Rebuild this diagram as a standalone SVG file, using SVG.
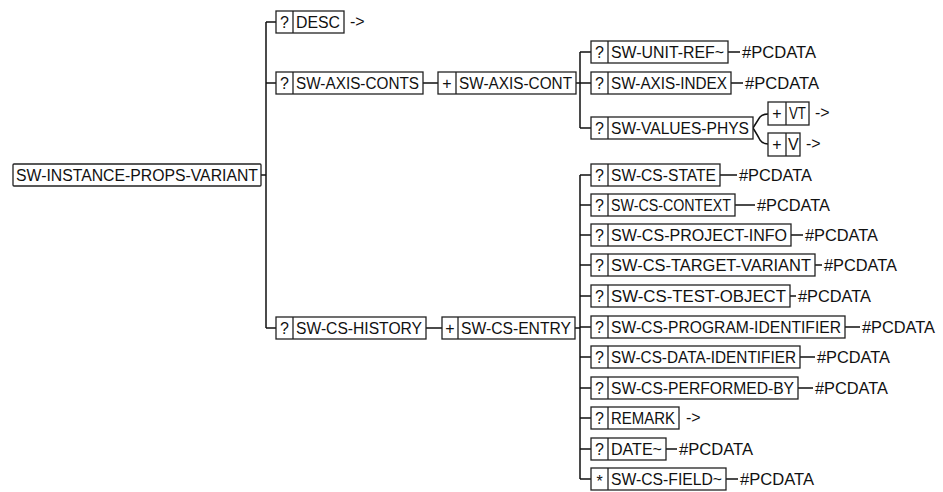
<svg xmlns="http://www.w3.org/2000/svg" width="943" height="492" viewBox="0 0 943 492">
<style>
.b{fill:#fff;stroke:#222;stroke-width:1.3}
.c{fill:none;stroke:#111;stroke-width:1.5}
text{font-family:"Liberation Sans",Arial,sans-serif;font-size:16px;fill:#111}
.q{text-anchor:middle}
</style>
<rect width="943" height="492" fill="#fff"/>
<g id="connectors" class="c">
<path d="M261,175H266M266,22V328M266,22H276M266,83H276M266,328H276"/>
<path d="M423,83H438M576,83H580M580,52V128M580,52H591M580,83H591M580,128H591"/>
<path d="M753,128Q758,120 760,117Q763,114 768,114M753,128Q758,136 760,140Q763,144 768,144"/>
<path d="M426,328H442M575,328H580M580,175V479"/>
<path d="M580,175H591M580,205H591M580,235H591M580,265H591M580,296H591M580,327H591M580,357H591M580,388H591M580,418H591M580,449H591M580,479H591"/>
<path d="M728,52H740M731,83H743"/>
<path d="M720,175H737M735,205H755M791,235H803M815,265H822M790,296H796M845,327H860M800,357H815M798,388H813M666,449H677M726,479H738"/>
</g>
<g id="root"><rect class="b" x="13" y="164" width="248" height="22" rx="1"/><text x="16" y="181" textLength="242" lengthAdjust="spacingAndGlyphs">SW-INSTANCE-PROPS-VARIANT</text></g>
<g id="desc"><rect class="b" x="276" y="11" width="68" height="22"/><path class="b" d="M293,11V33"/><text class="q" x="284.5" y="28">?</text><text x="296" y="28" textLength="44" lengthAdjust="spacingAndGlyphs">DESC</text><text x="350" y="27">-&gt;</text></g>
<g id="sw-axis-conts"><rect class="b" x="276" y="72" width="147" height="22"/><path class="b" d="M293,72V94"/><text class="q" x="284.5" y="89">?</text><text x="296" y="89" textLength="123" lengthAdjust="spacingAndGlyphs">SW-AXIS-CONTS</text></g>
<g id="sw-axis-cont"><rect class="b" x="438" y="72" width="138" height="22"/><path class="b" d="M456,72V94"/><text class="q" x="447" y="89">+</text><text x="459" y="89" textLength="113" lengthAdjust="spacingAndGlyphs">SW-AXIS-CONT</text></g>
<g id="sw-unit-ref"><rect class="b" x="591" y="41" width="137" height="22"/><path class="b" d="M608,41V63"/><text class="q" x="599.5" y="58">?</text><text x="611" y="58" textLength="113" lengthAdjust="spacingAndGlyphs">SW-UNIT-REF~</text><text x="742" y="58" textLength="74" lengthAdjust="spacingAndGlyphs">#PCDATA</text></g>
<g id="sw-axis-index"><rect class="b" x="591" y="72" width="140" height="22"/><path class="b" d="M608,72V94"/><text class="q" x="599.5" y="89">?</text><text x="611" y="89" textLength="116" lengthAdjust="spacingAndGlyphs">SW-AXIS-INDEX</text><text x="745" y="89" textLength="74" lengthAdjust="spacingAndGlyphs">#PCDATA</text></g>
<g id="sw-values-phys"><rect class="b" x="591" y="117" width="162" height="22"/><path class="b" d="M608,117V139"/><text class="q" x="599.5" y="134">?</text><text x="611" y="134" textLength="138" lengthAdjust="spacingAndGlyphs">SW-VALUES-PHYS</text></g>
<g id="vt"><rect class="b" x="768" y="102" width="41" height="23"/><path class="b" d="M786,102V125"/><text class="q" x="777" y="119">+</text><text x="789" y="119" textLength="17" lengthAdjust="spacingAndGlyphs">VT</text><text x="815" y="118">-&gt;</text></g>
<g id="v"><rect class="b" x="768" y="133" width="32" height="23"/><path class="b" d="M786,133V156"/><text class="q" x="777" y="150">+</text><text x="788" y="150">V</text><text x="806" y="149">-&gt;</text></g>
<g id="sw-cs-history"><rect class="b" x="276" y="317" width="150" height="22"/><path class="b" d="M293,317V339"/><text class="q" x="284.5" y="334">?</text><text x="296" y="334" textLength="126" lengthAdjust="spacingAndGlyphs">SW-CS-HISTORY</text></g>
<g id="sw-cs-entry"><rect class="b" x="442" y="317" width="133" height="22"/><path class="b" d="M458,317V339"/><text class="q" x="450" y="334">+</text><text x="461" y="334" textLength="110" lengthAdjust="spacingAndGlyphs">SW-CS-ENTRY</text></g>
<g id="sw-cs-state"><rect class="b" x="591" y="164" width="129" height="22"/><path class="b" d="M608,164V186"/><text class="q" x="599.5" y="181">?</text><text x="611" y="181" textLength="105" lengthAdjust="spacingAndGlyphs">SW-CS-STATE</text><text x="739" y="181" textLength="73" lengthAdjust="spacingAndGlyphs">#PCDATA</text></g>
<g id="sw-cs-context"><rect class="b" x="591" y="194" width="144" height="22"/><path class="b" d="M608,194V216"/><text class="q" x="599.5" y="211">?</text><text x="611" y="211" textLength="120" lengthAdjust="spacingAndGlyphs">SW-CS-CONTEXT</text><text x="757" y="211" textLength="73" lengthAdjust="spacingAndGlyphs">#PCDATA</text></g>
<g id="sw-cs-project-info"><rect class="b" x="591" y="224" width="200" height="22"/><path class="b" d="M608,224V246"/><text class="q" x="599.5" y="241">?</text><text x="611" y="241" textLength="176" lengthAdjust="spacingAndGlyphs">SW-CS-PROJECT-INFO</text><text x="805" y="241" textLength="73" lengthAdjust="spacingAndGlyphs">#PCDATA</text></g>
<g id="sw-cs-target-variant"><rect class="b" x="591" y="254" width="224" height="22"/><path class="b" d="M608,254V276"/><text class="q" x="599.5" y="271">?</text><text x="611" y="271" textLength="200" lengthAdjust="spacingAndGlyphs">SW-CS-TARGET-VARIANT</text><text x="824" y="271" textLength="73" lengthAdjust="spacingAndGlyphs">#PCDATA</text></g>
<g id="sw-cs-test-object"><rect class="b" x="591" y="285" width="199" height="22"/><path class="b" d="M608,285V307"/><text class="q" x="599.5" y="302">?</text><text x="611" y="302" textLength="175" lengthAdjust="spacingAndGlyphs">SW-CS-TEST-OBJECT</text><text x="798" y="302" textLength="73" lengthAdjust="spacingAndGlyphs">#PCDATA</text></g>
<g id="sw-cs-program-identifier"><rect class="b" x="591" y="316" width="254" height="22"/><path class="b" d="M608,316V338"/><text class="q" x="599.5" y="333">?</text><text x="611" y="333" textLength="230" lengthAdjust="spacingAndGlyphs">SW-CS-PROGRAM-IDENTIFIER</text><text x="862" y="333" textLength="73" lengthAdjust="spacingAndGlyphs">#PCDATA</text></g>
<g id="sw-cs-data-identifier"><rect class="b" x="591" y="346" width="209" height="22"/><path class="b" d="M608,346V368"/><text class="q" x="599.5" y="363">?</text><text x="611" y="363" textLength="185" lengthAdjust="spacingAndGlyphs">SW-CS-DATA-IDENTIFIER</text><text x="817" y="363" textLength="73" lengthAdjust="spacingAndGlyphs">#PCDATA</text></g>
<g id="sw-cs-performed-by"><rect class="b" x="591" y="377" width="207" height="22"/><path class="b" d="M608,377V399"/><text class="q" x="599.5" y="394">?</text><text x="611" y="394" textLength="183" lengthAdjust="spacingAndGlyphs">SW-CS-PERFORMED-BY</text><text x="815" y="394" textLength="73" lengthAdjust="spacingAndGlyphs">#PCDATA</text></g>
<g id="remark"><rect class="b" x="591" y="407" width="88" height="22"/><path class="b" d="M608,407V429"/><text class="q" x="599.5" y="424">?</text><text x="611" y="424" textLength="64" lengthAdjust="spacingAndGlyphs">REMARK</text><text x="686" y="423">-&gt;</text></g>
<g id="date"><rect class="b" x="591" y="438" width="75" height="22"/><path class="b" d="M608,438V460"/><text class="q" x="599.5" y="455">?</text><text x="611" y="455" textLength="51" lengthAdjust="spacingAndGlyphs">DATE~</text><text x="679" y="455" textLength="74" lengthAdjust="spacingAndGlyphs">#PCDATA</text></g>
<g id="sw-cs-field"><rect class="b" x="591" y="468" width="135" height="22"/><path class="b" d="M608,468V490"/><text class="q" x="599.5" y="487">*</text><text x="611" y="485" textLength="111" lengthAdjust="spacingAndGlyphs">SW-CS-FIELD~</text><text x="740" y="485" textLength="74" lengthAdjust="spacingAndGlyphs">#PCDATA</text></g>
</svg>
